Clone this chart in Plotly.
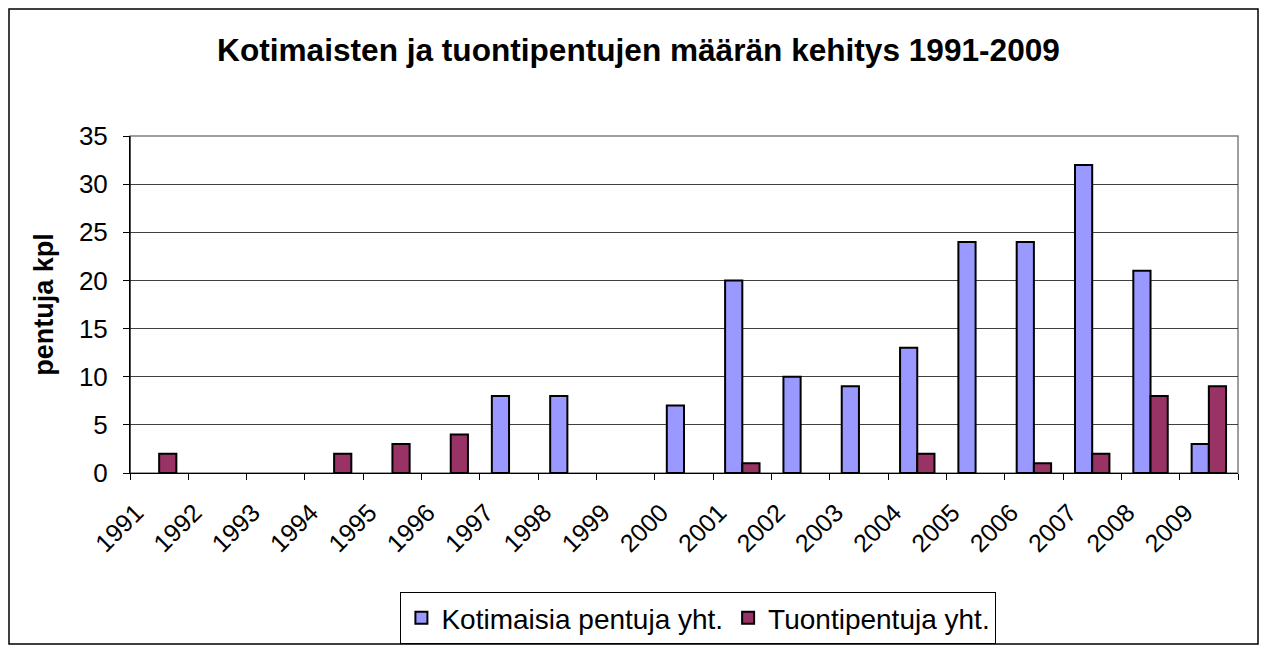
import plotly.graph_objects as go

years = [str(y) for y in range(1991, 2010)]
kotimaisia = [0, 0, 0, 0, 0, 0, 8, 8, 0, 7, 20, 10, 9, 13, 24, 24, 32, 21, 3]
tuonti = [2, 0, 0, 2, 3, 4, 0, 0, 0, 0, 1, 0, 0, 2, 0, 1, 2, 8, 9]


def nz(vals):
    return [v if v != 0 else None for v in vals]


W, H = 1251, 637
L, R, T, B = 122, 21, 128, 172
PW, PH = W - L - R, H - T - B

fig = go.Figure()
fig.add_trace(go.Bar(x=years, y=nz(kotimaisia), name="Kotimaisia pentuja yht.",
                     marker=dict(color="#9999FF", line=dict(color="black", width=2))))
fig.add_trace(go.Bar(x=years, y=nz(tuonti), name="Tuontipentuja yht.",
                     marker=dict(color="#993366", line=dict(color="black", width=2))))

font = "Liberation Sans, Arial, sans-serif"
fig.update_layout(
    width=W, height=H,
    margin=dict(l=L, r=R, t=T, b=B, autoexpand=False),
    paper_bgcolor="white", plot_bgcolor="white",
    barmode="group", bargap=0.41, bargroupgap=0,
    font=dict(family=font, size=26, color="black"),
    title=dict(text="<b>Kotimaisten ja tuontipentujen määrän kehitys 1991-2009</b>",
               x=0.504, xanchor="center", y=1 - 42 / H, yanchor="middle",
               font=dict(size=31.6, family=font)),
    showlegend=True,
    legend=dict(orientation="h", x=0.513, xanchor="center",
                yref="container", y=1 - 584 / H, yanchor="top",
                bgcolor="white", bordercolor="black", borderwidth=1,
                font=dict(size=28), traceorder="normal"),
    xaxis=dict(type="category", tickangle=-45, showline=True, linecolor="black", linewidth=1,
               ticks="outside", tickson="boundaries", ticklen=6, tickcolor="black",
               showgrid=False, tickfont=dict(size=25), automargin=False,
               ticklabelshift=-23, ticklabelstandoff=14),
    yaxis=dict(range=[0, 35], dtick=5, showline=True, linecolor="black", linewidth=1,
               ticks="outside", ticklen=6, tickcolor="black", automargin=False,
               showgrid=True, gridcolor="#404040", gridwidth=1, zeroline=False,
               ticklabelstandoff=10,
               title=dict(text="<b>pentuja kpl</b>", font=dict(size=27), standoff=17),
               tickfont=dict(size=26)),
    shapes=[
        dict(type="rect", xref="paper", yref="paper", x0=0, x1=1, y0=0, y1=1,
             line=dict(color="#808080", width=1.5), fillcolor="rgba(0,0,0,0)", layer="below"),
        dict(type="line", xref="paper", yref="paper", x0=0, x1=0, y0=0, y1=1,
             line=dict(color="black", width=1)),
        dict(type="rect", xref="paper", yref="paper",
             x0=(-L + 1) / PW, x1=(W - 1 - L) / PW,
             y0=-(B - 1) / PH, y1=1 + (T - 1) / PH,
             line=dict(color="black", width=1.5), fillcolor="rgba(0,0,0,0)"),
    ],
)

fig.write_html("out.html")
